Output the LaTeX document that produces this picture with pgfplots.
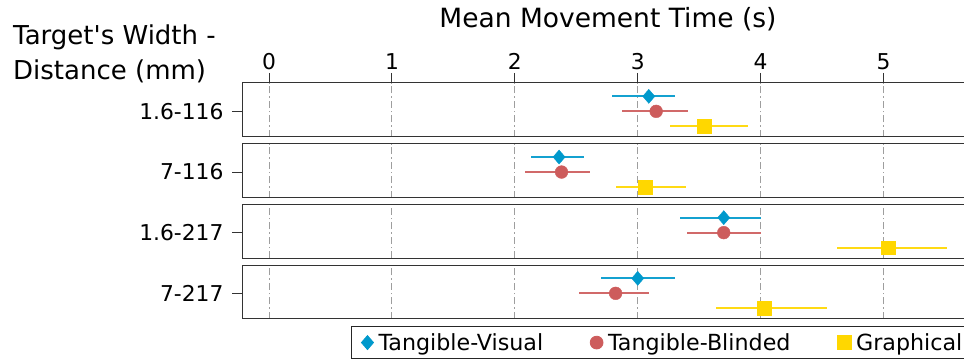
\documentclass[border=0pt]{standalone}
\usepackage{pgfplots}
\pgfplotsset{compat=1.18}
\usepackage{fontspec}
\setmainfont{DejaVu Sans}
\newfontfamily\plainfont{DejaVu Sans}
\definecolor{cblue}{RGB}{0,153,204}
\definecolor{cred}{RGB}{205,92,92}
\definecolor{cyel}{RGB}{255,215,0}
\pgfplotsset{
  panel/.style={
    scale only axis, width=733.7pt, height=54pt,
    xmin=-0.22, xmax=5.75, ymin=-0.71, ymax=2.89,
    xtick={0,1,2,3,4,5}, xmajorgrids,
    major grid style={color=black!38, line width=0.9pt, dash pattern=on 7pt off 3pt on 1.5pt off 3pt},
    axis line style={black!80, line width=1pt},
    ytick={1}, ytick pos=left,
    tick align=outside, major tick length=10pt,
    tick style={black!80, line width=1pt},
    ticklabel style={font=\fontsize{21.8}{25}\selectfont},
    yticklabel style={xshift=-5pt},
    /pgf/number format/assume math mode=true,
  },
  lower/.style={xticklabels={}, xtick style={draw=none}},
  pb/.style={only marks, mark=diamond*, mark size=7pt, color=cblue, mark options={xscale=1.15},
    error bars/.cd, x dir=both, x explicit, error mark=none,
    error bar style={line width=2pt, color=cblue!92!white}},
  pr/.style={only marks, mark=*, mark size=6.4pt, color=cred,
    error bars/.cd, x dir=both, x explicit, error mark=none,
    error bar style={line width=2pt, color=cred!92!white}},
  py/.style={only marks, mark=square*, mark size=6.8pt, color=cyel,
    error bars/.cd, x dir=both, x explicit, error mark=none,
    error bar style={line width=2pt, color=cyel!92!white}},
}
\begin{document}
\begin{tikzpicture}
\useasboundingbox (0,0) rectangle (964pt,362pt);
% panel 1
\begin{axis}[panel, at={(242pt,279pt)}, anchor=north west,
  xtick pos=right, xticklabel pos=right, yticklabels={1.6-116}]
\addplot[pb] coordinates {(3.09,2) += (0.21,0) -= (0.30,0)};
\addplot[pr] coordinates {(3.15,1) += (0.26,0) -= (0.28,0)};
\addplot[py] coordinates {(3.54,0) += (0.36,0) -= (0.28,0)};
\end{axis}
% panel 2
\begin{axis}[panel, lower, at={(242pt,218.3pt)}, anchor=north west, yticklabels={7-116}]
\addplot[pb] coordinates {(2.36,2) += (0.20,0) -= (0.23,0)};
\addplot[pr] coordinates {(2.38,1) += (0.23,0) -= (0.30,0)};
\addplot[py] coordinates {(3.06,0) += (0.33,0) -= (0.24,0)};
\end{axis}
% panel 3
\begin{axis}[panel, lower, at={(242pt,157.7pt)}, anchor=north west, yticklabels={1.6-217}]
\addplot[pb] coordinates {(3.70,2) += (0.30,0) -= (0.36,0)};
\addplot[pr] coordinates {(3.70,1) += (0.30,0) -= (0.30,0)};
\addplot[py] coordinates {(5.04,0) += (0.48,0) -= (0.42,0)};
\end{axis}
% panel 4
\begin{axis}[panel, lower, at={(242pt,97pt)}, anchor=north west, yticklabels={7-217},
  legend columns=3,
  legend style={at={(axis description cs:0.1486,-0.1296)}, anchor=north west,
    draw=black!85, line width=0.8pt, font=\fontsize{22.2}{26}\selectfont,
    inner xsep=10pt, inner ysep=5pt,
    /tikz/every odd column/.append style={column sep=3pt},
    /tikz/every even column/.append style={column sep=45pt}},
  legend image code/.code={\draw[mark repeat=2,mark phase=2,#1] plot coordinates {(0pt,0pt)(8pt,0pt)(21pt,0pt)};}]
\addplot[pb] coordinates {(3.00,2) += (0.30,0) -= (0.30,0)};
\addplot[pr] coordinates {(2.82,1) += (0.27,0) -= (0.30,0)};
\addplot[py] coordinates {(4.03,0) += (0.51,0) -= (0.39,0)};
\legend{Tangible-Visual,Tangible-Blinded,Graphical}
\end{axis}
\node[anchor=base, inner sep=0pt, font=\fontsize{26.5}{30}\selectfont] at (608pt,334pt) {Mean Movement Time (s)};
\node[anchor=base west, inner sep=0pt, font=\plainfont\fontsize{26}{30}\selectfont] at (13pt,317pt) {Target's Width -};
\node[anchor=base west, inner sep=0pt, font=\plainfont\fontsize{26}{30}\selectfont] at (13pt,282pt) {Distance (mm)};
\end{tikzpicture}
\end{document}
